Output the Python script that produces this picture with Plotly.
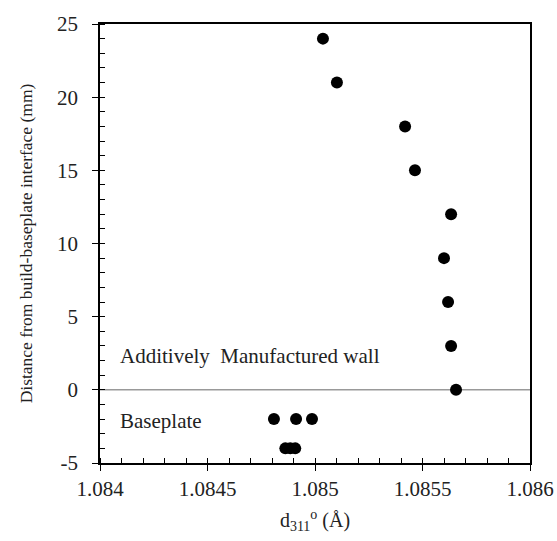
import plotly.graph_objects as go

wall_d = [1.085037, 1.085102, 1.085419, 1.085465, 1.085633, 1.085600, 1.085619, 1.085633, 1.085656]
wall_y = [24, 21, 18, 15, 12, 9, 6, 3, 0]
base_d = [1.084809, 1.084912, 1.084986, 1.084862, 1.084885, 1.084908]
base_y = [-2, -2, -2, -4, -4, -4]

x_ticks = [1.084, 1.0845, 1.085, 1.0855, 1.086]
x_labels = ["1.084", "1.0845", "1.085", "1.0855", "1.086"]
y_ticks = [-5, 0, 5, 10, 15, 20, 25]
y_labels = ["-5", "0", "5", "10", "15", "20", "25"]

font = "Liberation Serif"

fig = go.Figure()
fig.add_trace(go.Scatter(x=wall_d + base_d, y=wall_y + base_y, mode="markers",
                         marker=dict(color="black", size=12), showlegend=False))

fig.add_shape(type="line", xref="paper", x0=0, x1=1, yref="y", y0=0, y1=0,
              line=dict(color="#999999", width=1.5), layer="below")

fig.add_annotation(x=1.084085, y=2.3, xref="x", yref="y", text="Additively  Manufactured wall",
                   showarrow=False, xanchor="left", font=dict(family=font, size=21, color="#222"))
fig.add_annotation(x=1.084085, y=-2.1, xref="x", yref="y", text="Baseplate",
                   showarrow=False, xanchor="left", font=dict(family=font, size=21, color="#222"))

fig.update_layout(
    width=557, height=541,
    margin=dict(l=100, r=27, t=24, b=78),
    plot_bgcolor="white", paper_bgcolor="white",
    font=dict(family=font, size=20, color="#222"),
    xaxis=dict(range=[1.084, 1.086], tickvals=x_ticks, ticktext=x_labels, automargin=False,
               showgrid=False, zeroline=False, showline=True, linecolor="black", linewidth=1.5,
               mirror=True, ticks="outside", ticklen=6, tickcolor="black",
               minor=dict(dtick=0.0001, ticks="inside", ticklen=5, tickcolor="black"),
               title=dict(text="d<sub>311</sub><sup>o</sup> (Å)", font=dict(size=20), standoff=13),
               tickfont=dict(size=21)),
    yaxis=dict(range=[-5, 25], tickvals=y_ticks, ticktext=y_labels, automargin=False,
               showgrid=False, zeroline=False, showline=True, linecolor="black", linewidth=1.5,
               mirror=True, ticks="outside", ticklen=6, tickcolor="black", ticklabelstandoff=10,
               minor=dict(dtick=1, ticks="inside", ticklen=5, tickcolor="black"),
               title=dict(text="Distance from build-baseplate interface (mm)", font=dict(size=17.5), standoff=20),
               tickfont=dict(size=21)),
)

fig.write_html("out.html", config={"displayModeBar": False},
               post_script="document.body.style.margin='0';document.body.style.overflow='hidden';")
